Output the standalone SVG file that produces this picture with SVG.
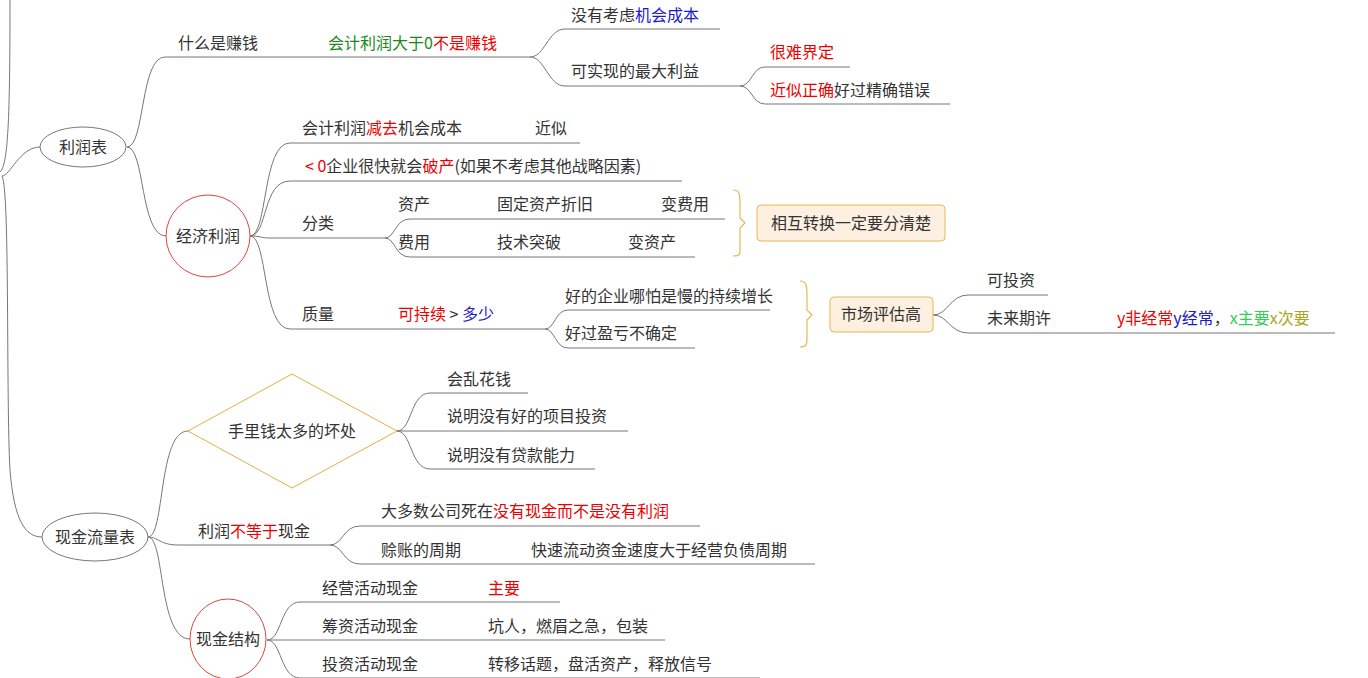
<svg xmlns="http://www.w3.org/2000/svg" width="1368" height="678" viewBox="0 0 1368 678">
<style>
text{font-family:"Noto Sans CJK SC","Liberation Sans",sans-serif;font-size:16px;fill:#333}
.c path{fill:none;stroke:#777;stroke-width:1}
.r{fill:#e00}.g{fill:#1a8a1a}.b{fill:#1a1acc}.lg{fill:#33cc55}.ol{fill:#a8a820}
.box{fill:#fdf0e0;stroke:#e8b850}
.br{fill:none;stroke:#e8b850;stroke-width:1.2}
</style>
<rect width="1368" height="678" fill="#fff"/>
<g class="c" id="connectors">
<path d="M10,0 C10,120 8,165 0,172 M2,176 C10,176 20,147 40,147 M2,176 C10,190 6,400 10,470 C14,520 25,537 42,537"/>
<path d="M127,147 C145,147 140,57 165,57 L530,57 C545,57 548,29 565,29 L720,29 M530,57 C545,57 548,86 565,86 L740,86 C752,86 752,67 765,67 L850,67 M740,86 C752,86 752,104 765,104 L950,104"/>
<path d="M127,147 C145,147 140,236 166,236"/>
<path d="M250,236 C268,236 262,143 290,143 L580,143 M250,236 C268,236 262,181 290,181 L682,181 M250,236 C262,236 260,238 270,238 L385,238 C395,238 395,219 410,219 L725,219 M385,238 C395,238 395,257 410,257 L695,257 M250,236 C268,236 262,329 290,329 L545,329 C555,329 555,310 568,310 L770,310 M545,329 C555,329 555,348 568,348 L695,348"/>
<path d="M933,315 C948,315 950,295 968,295 L1048,295 M933,315 C948,315 950,333 968,333 L1335,333"/>
<path d="M148,537 C165,537 158,431 188,431 M148,537 C158,537 160,545 178,545 L330,545 C343,545 343,526 360,526 L700,526 M330,545 C343,545 343,564 360,564 L815,564 M148,537 C165,537 158,639 190,639"/>
<path d="M397,431 C412,431 410,393 430,393 L528,393 M397,431 L628,431 M397,431 C412,431 410,469 430,469 L595,469"/>
<path d="M267,640 C282,640 280,602 300,602 L560,602 M267,640 L665,640 M267,640 C282,640 280,678 300,678 L760,678"/>
</g>
<path class="br" d="M733,190 C740,190 740,195 740,205 L740,218 L745,223 L740,228 L740,248 C740,255 740,256 733,256"/>
<path class="br" d="M800,281 C806,281 807,285 807,295 L807,310 L812,315 L807,320 L807,338 C807,345 806,347 800,347"/>
<g id="n-lirunbiao"><ellipse cx="83" cy="147" rx="43" ry="20" fill="#fff" stroke="#777"/><text x="83" y="153" text-anchor="middle">利润表</text></g>
<g id="n-xianjin"><ellipse cx="95" cy="537" rx="53" ry="24" fill="#fff" stroke="#777"/><text x="95" y="543" text-anchor="middle">现金流量表</text></g>
<g id="n-jingji"><ellipse cx="208" cy="236" rx="42" ry="41" fill="#fff" stroke="#d44"/><text x="208" y="242" text-anchor="middle">经济利润</text></g>
<g id="n-jiegou"><ellipse cx="228" cy="639" rx="38" ry="40" fill="#fff" stroke="#d44"/><text x="228" y="645" text-anchor="middle">现金结构</text></g>
<g id="n-diamond"><polygon points="188,431 292,374 397,431 292,488" fill="#fff" stroke="#e0b040"/><text x="292" y="437" text-anchor="middle">手里钱太多的坏处</text></g>
<g id="n-huxiang"><rect class="box" x="757" y="205" width="188" height="36" rx="4"/><text x="851" y="229" text-anchor="middle">相互转换一定要分清楚</text></g>
<g id="n-shichang"><rect class="box" x="830" y="297" width="103" height="35" rx="4"/><text x="881" y="320" text-anchor="middle">市场评估高</text></g>
<g id="labels">
<text x="178" y="49">什么是赚钱</text>
<text x="328" y="49"><tspan class="g">会计利润大于0</tspan><tspan class="r">不是赚钱</tspan></text>
<text x="571" y="21">没有考虑<tspan class="b">机会成本</tspan></text>
<text x="571" y="77">可实现的最大利益</text>
<text x="770" y="58" class="r">很难界定</text>
<text x="770" y="96"><tspan class="r">近似正确</tspan>好过精确错误</text>
<text x="302" y="134">会计利润<tspan class="r">减去</tspan>机会成本</text>
<text x="535" y="134">近似</text>
<text x="305" y="172"><tspan class="r">&lt; 0</tspan>企业很快就会<tspan class="r">破产</tspan>(如果不考虑其他战略因素)</text>
<text x="302" y="229">分类</text>
<text x="398" y="210">资产</text><text x="497" y="210">固定资产折旧</text><text x="661" y="210">变费用</text>
<text x="398" y="248">费用</text><text x="497" y="248">技术突破</text><text x="628" y="248">变资产</text>
<text x="302" y="320">质量</text>
<text x="398" y="320"><tspan class="r">可持续</tspan> &gt; <tspan class="b">多少</tspan></text>
<text x="565" y="302">好的企业哪怕是慢的持续增长</text>
<text x="565" y="339">好过盈亏不确定</text>
<text x="987" y="286">可投资</text>
<text x="987" y="324">未来期许</text>
<text x="1117" y="324"><tspan class="r">y非经常</tspan><tspan class="b">y经常</tspan>，<tspan class="lg">x主要</tspan><tspan class="ol">x次要</tspan></text>
<text x="447" y="385">会乱花钱</text>
<text x="447" y="422">说明没有好的项目投资</text>
<text x="447" y="461">说明没有贷款能力</text>
<text x="198" y="537">利润<tspan class="r">不等于</tspan>现金</text>
<text x="381" y="517">大多数公司死在<tspan class="r">没有现金而不是没有利润</tspan></text>
<text x="381" y="556">赊账的周期</text><text x="531" y="556">快速流动资金速度大于经营负债周期</text>
<text x="322" y="594">经营活动现金</text><text x="488" y="594" class="r">主要</text>
<text x="322" y="632">筹资活动现金</text><text x="488" y="632">坑人，燃眉之急，包装</text>
<text x="322" y="670">投资活动现金</text><text x="488" y="670">转移话题，盘活资产，释放信号</text>
</g>
</svg>
